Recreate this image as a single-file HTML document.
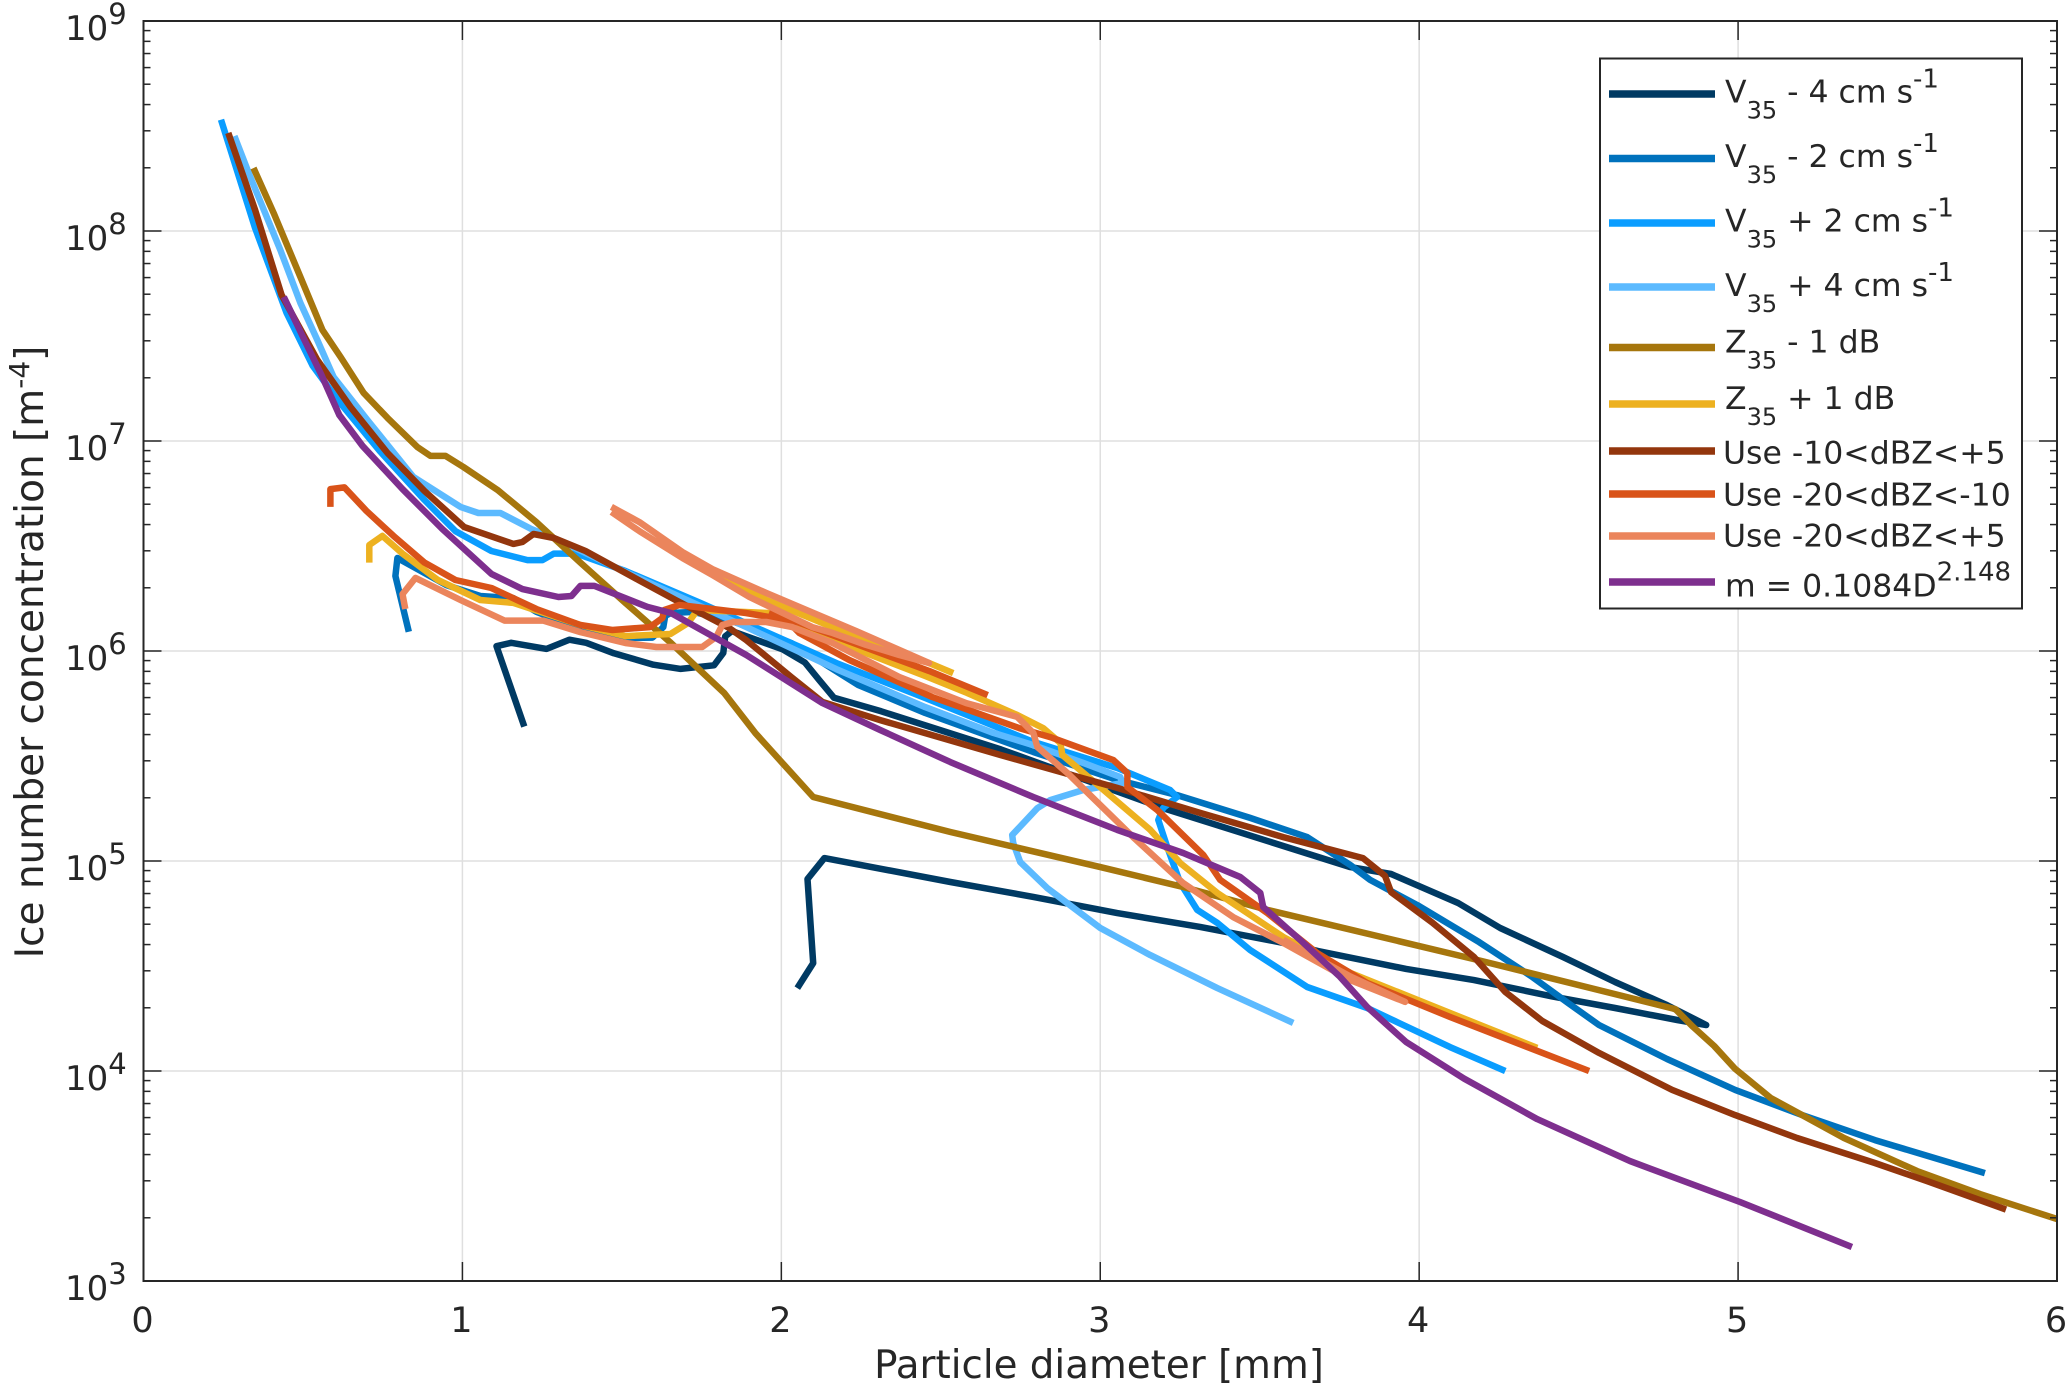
<!DOCTYPE html>
<html lang="en">
<head>
<meta charset="utf-8">
<title>Ice number concentration vs particle diameter</title>
<style>
html,body{margin:0;padding:0;background:#fff;}
svg{display:block;font-family:"DejaVu Sans","Liberation Sans",sans-serif;fill:#262626;}
.legend-text{font-size:31.5px;}
.sub{font-size:24px;}
.sup{font-size:26px;}
</style>
</head>
<body>
<svg id="chart" width="2067" height="1384" viewBox="0 0 2067 1384" xmlns="http://www.w3.org/2000/svg">
  <rect x="0" y="0" width="2067" height="1384" fill="#ffffff"/>
  <g id="grid"></g>
  <g id="series"></g>
  <g id="axes"></g>
  <text x="1099" y="1378" font-size="38.8" text-anchor="middle">Particle diameter [mm]</text>
  <text transform="translate(43,652) rotate(-90)" font-size="39" text-anchor="middle">Ice number concentration [m<tspan font-size="28" dy="-14">-4</tspan><tspan dy="14">]</tspan></text>
  <g>
    <rect x="1600" y="58.5" width="422" height="550" fill="#ffffff" stroke="#262626" stroke-width="2"/>
    <g>
      <line x1="1609" x2="1715" y1="94" y2="94" stroke="#003A63" stroke-width="7.5"/>
      <text class="legend-text" x="1725" y="102.7">V<tspan class="sub" dy="16">35</tspan><tspan dy="-16"> - 4 cm s</tspan><tspan class="sup" dy="-15">-1</tspan></text>
    </g>
    <g>
      <line x1="1609" x2="1715" y1="158.5" y2="158.5" stroke="#0072BD" stroke-width="7.5"/>
      <text class="legend-text" x="1725" y="167">V<tspan class="sub" dy="16">35</tspan><tspan dy="-16"> - 2 cm s</tspan><tspan class="sup" dy="-15">-1</tspan></text>
    </g>
    <g>
      <line x1="1609" x2="1715" y1="223" y2="223" stroke="#0A9DFF" stroke-width="7.5"/>
      <text class="legend-text" x="1725" y="231.7">V<tspan class="sub" dy="16">35</tspan><tspan dy="-16"> + 2 cm s</tspan><tspan class="sup" dy="-15">-1</tspan></text>
    </g>
    <g>
      <line x1="1609" x2="1715" y1="287" y2="287" stroke="#5CBAFF" stroke-width="7.5"/>
      <text class="legend-text" x="1725" y="296">V<tspan class="sub" dy="16">35</tspan><tspan dy="-16"> + 4 cm s</tspan><tspan class="sup" dy="-15">-1</tspan></text>
    </g>
    <g>
      <line x1="1609" x2="1715" y1="347.5" y2="347.5" stroke="#A6760D" stroke-width="7.5"/>
      <text class="legend-text" x="1725" y="352.6">Z<tspan class="sub" dy="16">35</tspan><tspan dy="-16"> - 1 dB</tspan></text>
    </g>
    <g>
      <line x1="1609" x2="1715" y1="404" y2="404" stroke="#EDB120" stroke-width="7.5"/>
      <text class="legend-text" x="1725" y="408.9">Z<tspan class="sub" dy="16">35</tspan><tspan dy="-16"> + 1 dB</tspan></text>
    </g>
    <g>
      <line x1="1609" x2="1715" y1="451" y2="451" stroke="#93360D" stroke-width="7.5"/>
      <text class="legend-text" x="1723" y="463.6">Use -10&lt;dBZ&lt;+5</text>
    </g>
    <g>
      <line x1="1609" x2="1715" y1="494" y2="494" stroke="#D95319" stroke-width="7.5"/>
      <text class="legend-text" x="1723" y="505.7">Use -20&lt;dBZ&lt;-10</text>
    </g>
    <g>
      <line x1="1609" x2="1715" y1="536" y2="536" stroke="#EB855C" stroke-width="7.5"/>
      <text class="legend-text" x="1723" y="546.6">Use -20&lt;dBZ&lt;+5</text>
    </g>
    <g>
      <line x1="1609" x2="1715" y1="582" y2="582" stroke="#7E2F8E" stroke-width="7.5"/>
      <text class="legend-text" x="1725" y="596.4">m = 0.1084D<tspan class="sup" dy="-16">2.148</tspan></text>
    </g>
  </g>
</svg>
<script>
// Axis tick values
const xTickLabels = [0, 1, 2, 3, 4, 5, 6];
const yTickExponents = [3, 4, 5, 6, 7, 8, 9];
const yMinorMultipliers = [2, 3, 4, 5, 6, 7, 8, 9];

// Series: particle diameter in mm, log10 of concentration in m^-4. null = gap in line.
const v35Minus4D = [1.194,1.107,1.153,1.264,1.335,1.388,1.475,1.599,1.684,1.789,1.818,1.824,1.845,2.004,2.074,2.118,2.165,2.313,2.689,3.197,3.784,3.912,4.122,4.254,4.451,4.614,4.777,4.900,4.809,4.614,4.417,4.172,3.959,3.683,3.574,3.313,3.053,2.790,2.530,2.135,2.082,2.100,2.050];
const v35Minus4LogN = [5.640,6.023,6.039,6.010,6.054,6.039,5.989,5.935,5.915,5.932,5.991,6.070,6.095,6.008,5.945,5.863,5.777,5.713,5.531,5.252,4.971,4.938,4.800,4.681,4.543,4.424,4.314,4.219,4.243,4.300,4.355,4.433,4.486,4.571,4.610,4.686,4.752,4.829,4.900,5.014,4.914,4.514,4.395];

const v35Minus2D = [0.832,0.790,0.796,0.950,1.056,1.160,1.232,1.370,1.511,1.596,1.630,1.636,1.654,1.724,1.836,2.031,2.241,2.451,2.790,3.053,3.241,3.470,3.649,3.784,3.846,3.994,4.188,4.351,4.467,4.564,4.777,4.991,5.201,5.429,5.774];
const v35Minus2LogN = [6.092,6.357,6.443,6.314,6.262,6.252,6.186,6.105,6.062,6.064,6.114,6.167,6.181,6.186,6.148,6.038,5.838,5.705,5.519,5.386,5.314,5.205,5.114,4.981,4.910,4.790,4.614,4.452,4.324,4.219,4.057,3.910,3.790,3.671,3.514];

const v35Plus2D = [0.243,0.350,0.448,0.531,0.614,0.741,0.881,0.978,1.091,1.204,1.251,1.287,1.357,1.511,1.746,2.172,2.451,2.790,3.053,3.219,3.241,3.197,3.182,3.210,3.251,3.304,3.367,3.470,3.649,3.837,4.097,4.270];
const v35Plus2LogN = [8.530,8.014,7.612,7.357,7.186,6.952,6.719,6.571,6.476,6.433,6.433,6.464,6.464,6.381,6.229,5.943,5.776,5.567,5.443,5.338,5.305,5.252,5.195,5.067,4.895,4.767,4.705,4.576,4.400,4.300,4.114,4.000];

const v35Plus4D = [0.285,0.335,0.429,0.492,0.545,0.596,0.702,0.846,0.994,1.050,1.119,1.216,1.287,1.511,1.890,2.172,2.451,2.665,2.790,2.947,3.063,3.069,2.947,2.843,2.803,2.724,2.727,2.749,2.834,3.000,3.157,3.367,3.605];
const v35Plus4LogN = [8.452,8.257,7.910,7.657,7.481,7.305,7.100,6.829,6.686,6.657,6.657,6.581,6.538,6.376,6.114,5.914,5.733,5.610,5.552,5.467,5.400,5.371,5.338,5.290,5.252,5.124,5.086,4.995,4.871,4.681,4.552,4.395,4.229];

const z35Minus1D = [0.345,0.408,0.492,0.561,0.618,0.690,0.765,0.859,0.900,0.947,1.003,1.110,1.232,1.370,1.511,1.654,1.821,1.918,2.003,2.100,2.530,3.000,3.260,3.524,3.683,4.172,4.803,4.859,4.925,4.991,5.103,5.201,5.332,5.561,5.759,6.000];
const z35Minus1LogN = [8.300,8.086,7.781,7.529,7.400,7.229,7.110,6.971,6.929,6.929,6.876,6.767,6.614,6.421,6.229,6.038,5.800,5.610,5.467,5.305,5.138,4.971,4.876,4.767,4.710,4.533,4.295,4.210,4.119,4.010,3.871,3.790,3.681,3.524,3.414,3.295];

const z35Plus1D = [0.708,0.708,0.749,0.812,0.923,1.056,1.160,1.370,1.511,1.652,1.707,1.737,1.962,2.031,2.241,2.451,2.583,2.740,2.821,2.875,2.881,3.000,3.157,3.251,3.367,3.574,3.784,4.097,4.370,null,2.539,2.463,2.235,1.953,1.671];
const z35Plus1LogN = [6.421,6.505,6.548,6.464,6.338,6.243,6.229,6.124,6.071,6.081,6.133,6.195,6.181,6.133,6.005,5.881,5.800,5.695,5.633,5.562,5.505,5.352,5.148,4.990,4.848,4.638,4.467,4.276,4.110,null,5.895,5.943,6.067,6.243,6.481];

const useM10P5D = [0.266,0.350,0.433,0.545,0.649,0.765,0.881,1.006,1.160,1.188,1.223,1.287,1.386,1.552,1.668,1.836,1.890,2.031,2.129,2.310,2.687,3.053,3.313,3.574,3.824,3.893,3.912,4.041,4.172,4.270,4.386,4.564,4.793,4.991,5.185,5.429,5.592,5.840];
const useM10P5LogN = [8.467,8.100,7.695,7.386,7.162,6.943,6.762,6.590,6.510,6.519,6.557,6.538,6.476,6.338,6.243,6.110,6.052,5.876,5.757,5.671,5.505,5.348,5.229,5.114,5.014,4.929,4.852,4.707,4.543,4.376,4.238,4.086,3.910,3.790,3.681,3.562,3.476,3.340];

const useM20M10D = [0.586,0.586,0.630,0.699,0.784,0.881,0.978,1.091,1.232,1.370,1.470,1.588,1.627,1.633,1.680,1.889,2.016,2.056,2.213,2.473,2.746,2.843,3.041,3.085,3.085,3.179,3.323,3.376,3.524,3.680,3.837,4.097,4.533,null,2.647,2.463,2.285,2.016,1.962];
const useM20M10LogN = [6.686,6.771,6.779,6.667,6.548,6.421,6.338,6.300,6.200,6.124,6.100,6.114,6.157,6.195,6.219,6.181,6.148,6.086,5.957,5.781,5.633,5.590,5.481,5.419,5.352,5.243,5.029,4.910,4.752,4.562,4.419,4.257,4.000,null,5.790,5.905,6.005,6.157,6.186];

const useM20P5D = [0.821,0.812,0.853,0.994,1.132,1.254,1.370,1.511,1.608,1.752,1.796,1.815,1.850,1.953,2.034,2.160,2.370,2.580,2.740,2.790,2.803,2.897,3.103,3.260,3.417,3.574,3.784,3.956,3.784,3.574,null,1.467,1.555,1.690,1.784,1.953,2.235,2.463,2.370,2.266,2.160,2.097,1.900,1.784,1.690,1.555,1.467];
const useM20P5LogN = [6.200,6.271,6.348,6.243,6.145,6.145,6.090,6.038,6.019,6.019,6.067,6.124,6.138,6.138,6.114,6.038,5.876,5.752,5.686,5.610,5.543,5.419,5.114,4.895,4.733,4.610,4.433,4.329,4.450,4.625,null,6.686,6.614,6.471,6.390,6.276,6.095,5.943,5.981,6.029,6.086,6.114,6.257,6.362,6.443,6.571,6.662];

const massLawD = [0.440,0.503,0.558,0.614,0.687,0.812,0.937,1.091,1.188,1.301,1.342,1.370,1.414,1.580,1.654,1.890,2.129,2.310,2.530,2.790,3.053,3.260,3.439,3.502,3.511,3.627,3.752,3.837,3.959,4.141,4.370,4.661,5.006,5.357];
const massLawLogN = [7.686,7.486,7.314,7.124,6.976,6.771,6.581,6.367,6.295,6.257,6.262,6.310,6.310,6.210,6.181,5.981,5.752,5.624,5.471,5.305,5.148,5.038,4.924,4.848,4.781,4.624,4.448,4.305,4.138,3.964,3.771,3.571,3.376,3.162];

const seriesNames = ['v35-minus-4','v35-minus-2','v35-plus-2','v35-plus-4','z35-minus-1','z35-plus-1','use-10-5','use-20-10','use-20-5','mass-power-law'];
const seriesColors = ['#003A63','#0072BD','#0A9DFF','#5CBAFF','#A6760D','#EDB120','#93360D','#D95319','#EB855C','#7E2F8E'];
const seriesD = [v35Minus4D,v35Minus2D,v35Plus2D,v35Plus4D,z35Minus1D,z35Plus1D,useM10P5D,useM20M10D,useM20P5D,massLawD];
const seriesLogN = [v35Minus4LogN,v35Minus2LogN,v35Plus2LogN,v35Plus4LogN,z35Minus1LogN,z35Plus1LogN,useM10P5LogN,useM20M10LogN,useM20P5LogN,massLawLogN];

const SVG_NS = 'http://www.w3.org/2000/svg';
const plotLeft = 143.5, plotRight = 2057, plotTop = 21, plotBottom = 1281;
const xMin = 0, xMax = 6, yMin = 3, yMax = 9;

function xScale(d) { return plotLeft + (d - xMin) / (xMax - xMin) * (plotRight - plotLeft); }
function yScale(logN) { return plotTop + (yMax - logN) / (yMax - yMin) * (plotBottom - plotTop); }

function make(tag, attrs, parent) {
  const el = document.createElementNS(SVG_NS, tag);
  for (const k in attrs) el.setAttribute(k, attrs[k]);
  parent.appendChild(el);
  return el;
}

const gridG = document.getElementById('grid');
const seriesG = document.getElementById('series');
const axesG = document.getElementById('axes');
const axisColor = '#262626';

// Grid
xTickLabels.slice(1, -1).forEach(function (v) {
  const l = make('line', {x1: xScale(v), x2: xScale(v), y1: plotTop, y2: plotBottom, stroke: '#dfdfdf', 'stroke-width': 1.5}, gridG);
  
  
});
yTickExponents.slice(1, -1).forEach(function (v) {
  const l = make('line', {x1: plotLeft, x2: plotRight, y1: yScale(v), y2: yScale(v), stroke: '#dfdfdf', 'stroke-width': 1.5}, gridG);
  
  
});

// Series
seriesNames.forEach(function (name, i) {
  let d = '';
  let pen = 'M';
  seriesD[i].forEach(function (v, j) {
    if (v === null) { pen = 'M'; return; }
    d += pen + xScale(v).toFixed(1) + ' ' + yScale(seriesLogN[i][j]).toFixed(1) + ' ';
    pen = 'L';
  });
  const p = make('path', {d: d, fill: 'none', stroke: seriesColors[i], 'stroke-width': 6.5, 'stroke-linejoin': 'round', 'stroke-linecap': 'butt'}, seriesG);
  
  
});

// Axes box
const box = make('rect', {x: plotLeft, y: plotTop, width: plotRight - plotLeft, height: plotBottom - plotTop, fill: 'none', stroke: axisColor, 'stroke-width': 2}, axesG);



// X ticks and labels
xTickLabels.forEach(function (v) {
  const x = xScale(v);
  const t1 = make('line', {x1: x, x2: x, y1: plotBottom, y2: plotBottom - 19, stroke: axisColor, 'stroke-width': 1.5}, axesG);
  
  
  const t2 = make('line', {x1: x, x2: x, y1: plotTop, y2: plotTop + 19, stroke: axisColor, 'stroke-width': 1.5}, axesG);
  
  
  const lab = make('text', {x: x - 1, y: 1332, 'font-size': 35, 'text-anchor': 'middle'}, axesG);
  lab.textContent = String(v);
  
  
});

// Y ticks and labels
yTickExponents.forEach(function (e) {
  const y = yScale(e);
  const t1 = make('line', {x1: plotLeft, x2: plotLeft + 18, y1: y, y2: y, stroke: axisColor, 'stroke-width': 1.5}, axesG);
  
  
  const t2 = make('line', {x1: plotRight, x2: plotRight - 18, y1: y, y2: y, stroke: axisColor, 'stroke-width': 1.5}, axesG);
  
  
  const lab = make('text', {x: 65, y: y + 19, 'font-size': 34}, axesG);
  
  
  const base = make('tspan', {}, lab);
  base.textContent = '10';
  const sup = make('tspan', {'font-size': 29, dy: -16}, lab);
  sup.textContent = String(e);
  if (e < yMax) {
    yMinorMultipliers.forEach(function (m) {
      const ym = yScale(e + Math.log10(m));
      const m1 = make('line', {x1: plotLeft, x2: plotLeft + 7, y1: ym, y2: ym, stroke: axisColor, 'stroke-width': 1.5}, axesG);
      
      
      const m2 = make('line', {x1: plotRight, x2: plotRight - 7, y1: ym, y2: ym, stroke: axisColor, 'stroke-width': 1.5}, axesG);
      
      
    });
  }
});
</script>
</body>
</html>
